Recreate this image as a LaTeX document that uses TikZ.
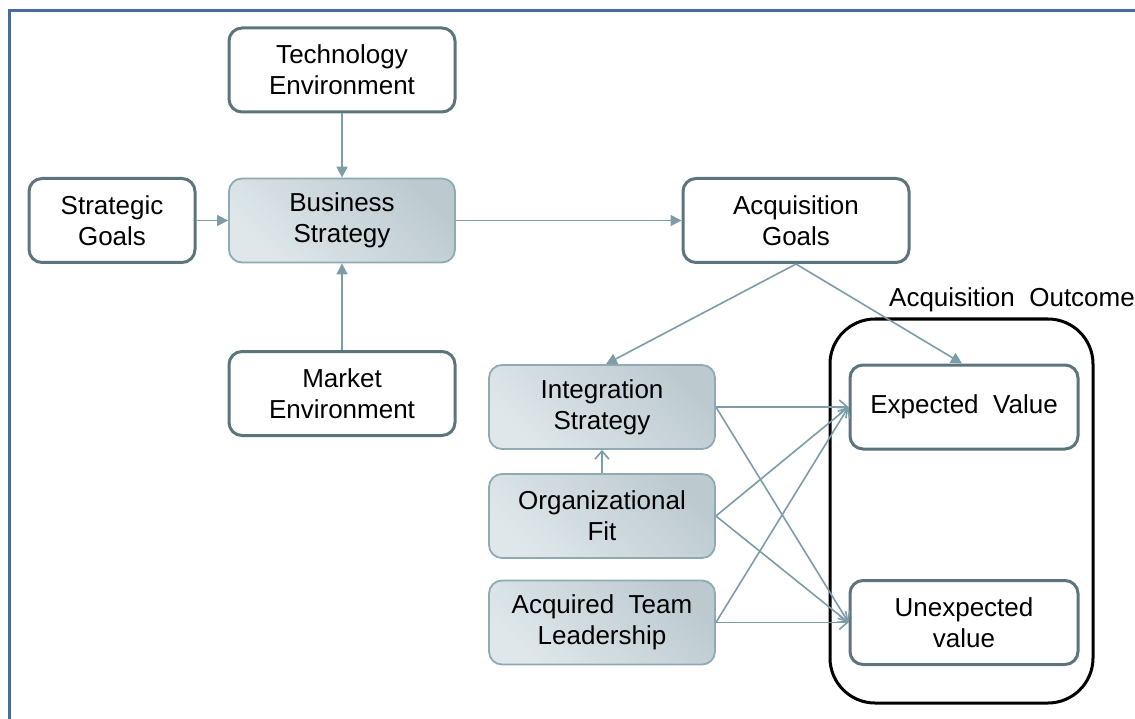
\documentclass[tikz,border=0pt]{standalone}
\usepackage{fontspec}
\setmainfont{Liberation Sans}
\usetikzlibrary{arrows.meta}

\definecolor{framecol}{HTML}{4A6A9E}
\definecolor{boxline}{HTML}{5C747C}
\definecolor{shadeline}{HTML}{90AAB3}
\definecolor{arrowcol}{HTML}{7C9CA7}
\definecolor{shadelight}{HTML}{DFE7EA}
\definecolor{shadedark}{HTML}{BCCAD0}

\tikzset{
  txt/.style={font=\fontsize{26}{31}\selectfont, align=center, text=black},
  plainbox/.style={txt, draw=boxline, line width=3pt, fill=white,
    rounded corners=13pt, minimum width=226pt, minimum height=84pt,
    inner sep=0pt},
  shadebox/.style={txt, draw=shadeline, line width=1.8pt,
    left color=shadelight, right color=shadedark, shading angle=135,
    rounded corners=13pt, minimum width=226pt, minimum height=84pt,
    inner sep=0pt},
  fillarrow/.style={draw=arrowcol, line width=1.6pt,
    -{Triangle[length=11pt,width=11pt]}},
  openarrow/.style={draw=arrowcol, line width=1.6pt,
    -{Straight Barb[length=8pt,width=14pt,line width=1.6pt]}},
  outcomebox/.style={draw=black, line width=3pt, rounded corners=45pt,
    minimum width=263pt, minimum height=384pt, inner sep=0pt}
}

\begin{document}
\begin{tikzpicture}[x=1pt,y=-1pt]
  \useasboundingbox (0,0) rectangle (1135,719);

  % page frame (left and top rules)
  \draw[framecol, line width=3pt] (9,719) -- (9,11) -- (1135,11);

  % grouping box for the outcome
  \node[outcomebox] (outcome) at (961.5,511) {};
  \node[txt, anchor=south] (outlabel) at (1012,315) {Acquisition\ \ Outcome};

  % nodes
  \node[plainbox] (tech) at (342,70) {Technology\\Environment};
  \node[plainbox, minimum width=166pt] (goals) at (112,220.5) {Strategic\\Goals};
  \node[shadebox] (biz) at (342,220.5) {Business\\Strategy};
  \node[plainbox] (market) at (342,393.5) {Market\\Environment};
  \node[plainbox] (acq) at (796,220.5) {Acquisition\\Goals};

  \node[shadebox] (integ) at (602,407) {Integration\\Strategy};
  \node[shadebox] (orgfit) at (602,516) {Organizational\\Fit};
  \node[shadebox] (team) at (602,622.5) {Acquired\ \ Team\\Leadership};

  \node[plainbox, minimum width=228pt] (expected) at (964,407)
    {\raisebox{-3pt}{Expected\ \ Value}};
  \node[plainbox, minimum width=228pt] (unexpected) at (964,622.5) {Unexpected\\value};

  % connectors
  \draw[fillarrow] (tech) -- (biz);
  \draw[fillarrow] (market) -- (biz);
  \draw[fillarrow] (goals) -- (biz);
  \draw[fillarrow] (biz) -- (acq);
  \draw[fillarrow] (acq.south) -- ([xshift=4pt]integ.north);
  \draw[fillarrow] (acq.south) -- ([xshift=-2pt]expected.north);

  \draw[openarrow] (orgfit) -- (integ);

  \draw[openarrow] (integ.east) -- (expected.west);
  \draw[openarrow] (integ.east) -- (unexpected.west);
  \draw[openarrow] (orgfit.east) -- (expected.west);
  \draw[openarrow] (orgfit.east) -- (unexpected.west);
  \draw[openarrow] (team.east) -- (expected.west);
  \draw[openarrow] (team.east) -- (unexpected.west);
\end{tikzpicture}
\end{document}
